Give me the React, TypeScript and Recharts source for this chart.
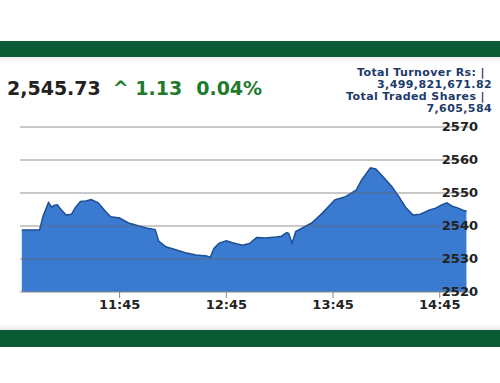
import { AreaChart, Area, XAxis, YAxis, ReferenceLine } from "recharts";

// minutes since midnight, 10:50 .. 15:00
const minutes = [
  650, 660, 662, 665, 667, 668, 670, 672, 675, 678, 680, 683, 686, 689, 693, 697, 700, 705, 710, 716,
  720, 725, 727, 731, 737, 742, 748, 754, 756, 758, 761, 765, 768, 774, 778, 782, 787, 793, 796, 799,
  800, 802, 804, 809, 813, 819, 826, 832, 838, 841, 846, 849, 853, 858, 862, 866, 870, 874, 879, 883,
  886, 889, 892, 895, 899, 900,
];
const prices = [
  2538.8, 2538.8, 2543.0, 2547.1, 2545.6, 2546.2, 2546.4, 2545.0, 2543.3, 2543.6, 2545.5, 2547.4, 2547.6,
  2548.0, 2547.0, 2544.5, 2542.8, 2542.4, 2540.9, 2540.0, 2539.4, 2538.9, 2535.4, 2533.7, 2532.7, 2531.9,
  2531.2, 2530.9, 2530.5, 2533.2, 2534.8, 2535.5, 2535.0, 2534.2, 2534.7, 2536.5, 2536.4, 2536.7, 2536.9,
  2538.0, 2537.8, 2534.8, 2538.3, 2539.8, 2540.9, 2543.9, 2547.9, 2548.9, 2550.9, 2553.9, 2557.6, 2557.3,
  2555.0, 2552.0, 2548.9, 2545.5, 2543.3, 2543.6, 2544.8, 2545.5, 2546.4, 2547.0, 2546.0, 2545.5, 2544.6,
  2544.6,
];
const xTicks = [705, 765, 825, 885];
const yTicks = [2520, 2530, 2540, 2550, 2560, 2570];

const data = minutes.map((m, i) => ({ t: m, price: prices[i] }));

const fmtTime = (m: number) => `${Math.floor(m / 60)}:${String(m % 60).padStart(2, "0")}`;

const GREEN = "#0b5a36";
const NAVY = "#1d3a6b";

function YTick(props: any) {
  const { x, y, payload } = props;
  return (
    <text x={x} y={y - 1} textAnchor="end" dominantBaseline="central" fontSize={13} fontWeight="bold" fill="#222" fontFamily="DejaVu Sans">
      {payload.value}
    </text>
  );
}

export default function App() {
  return (
    <div style={{ position: "fixed", left: 0, top: 0, width: 500, height: 383, background: "#fff", fontFamily: "DejaVu Sans" }}>
      <div style={{ position: "absolute", left: 0, top: 41, width: 500, height: 16, background: GREEN }} />
      <div style={{ position: "absolute", left: 0, top: 330, width: 500, height: 17, background: GREEN }} />
      <div style={{ position: "absolute", left: 0, top: 57, width: 500, height: 6, background: "linear-gradient(#f0e8ec, #fff)" }} />
      <div style={{ position: "absolute", left: 0, top: 324, width: 500, height: 6, background: "linear-gradient(#fff, #ece8ec)" }} />

      <div style={{ position: "absolute", left: 7, top: 76, fontSize: 19, fontWeight: "bold", whiteSpace: "nowrap", lineHeight: "24px" }}>
        <span style={{ color: "#222" }}>2,545.73</span>
        <span style={{ color: "#1e7a2e", marginLeft: 12 }}>^ 1.13</span>
        <span style={{ color: "#1e7a2e", marginLeft: 14 }}>0.04%</span>
      </div>
      <div
        style={{
          position: "absolute",
          right: 8,
          top: 67,
          textAlign: "right",
          fontSize: 11,
          fontWeight: "bold",
          lineHeight: "12px",
          color: NAVY,
          whiteSpace: "nowrap",
        }}
      >
        <div style={{ marginRight: 7, letterSpacing: 0.4 }}>Total Turnover Rs: |</div>
        <div style={{ letterSpacing: 0.4 }}>3,499,821,671.82</div>
        <div style={{ marginRight: 7, letterSpacing: 0.4 }}>Total Traded Shares |</div>
        <div style={{ letterSpacing: 0.4 }}>7,605,584</div>
      </div>

      <div style={{ position: "absolute", left: 0, top: 0 }}>
        <AreaChart width={500} height={322} data={data} margin={{ top: 127, right: 0, left: 20, bottom: 0 }}>
          <XAxis
            dataKey="t"
            type="number"
            domain={[649, 902]}
            ticks={xTicks}
            tickFormatter={fmtTime}
            height={30}
            stroke="#888"
            tickSize={6}
            tick={{ fontSize: 13, fontWeight: "bold", fill: "#222", fontFamily: "DejaVu Sans" }}
          />
          <YAxis
            orientation="right"
            domain={[2520, 2570]}
            ticks={yTicks}
            width={30}
            axisLine={false}
            tickLine={false}
            tick={<YTick />}
          />
          <Area
            type="linear"
            dataKey="price"
            stroke="#1c4f93"
            strokeWidth={1.5}
            fill="#3a7ad0"
            fillOpacity={1}
            baseValue={2520}
            isAnimationActive={false}
          />
          {yTicks.slice(1).map((v) => (
            <ReferenceLine key={v} y={v} stroke="#666" strokeOpacity={0.7} strokeWidth={1.2} />
          ))}
        </AreaChart>
      </div>
    </div>
  );
}
